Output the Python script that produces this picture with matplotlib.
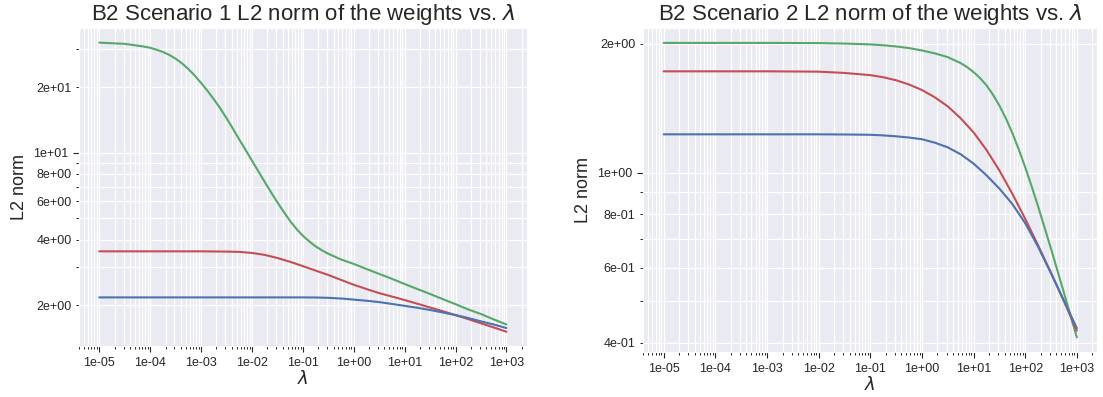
# L2 norm of the weights vs lambda, two scenarios

import numpy as np
import matplotlib.pyplot as plt
import matplotlib.ticker as mticker
import seaborn as sns

sns.set_style("darkgrid", {"xtick.bottom": True, "ytick.left": True})
plt.rcParams['font.family'] = ['Liberation Sans', 'DejaVu Sans']

# scenario 1, lambda = 10**exp
lam_exp_1 = np.arange(-5, 3.25, 0.25)
lam_exp_1g = np.r_[-5, -4.75, np.arange(-4.5, -0.49, 0.125), np.arange(-0.25, 3.01, 0.25)]
s1_green = [32.0, 31.8, 31.6, 31.3, 31.0, 30.7, 30.3, 29.7, 29.0, 28.1, 27.0, 25.7,
            24.2, 22.6, 20.9, 19.25, 17.6, 16.0, 14.4, 12.9, 11.5, 10.3, 9.20, 8.22,
            7.35, 6.58, 5.92, 5.35, 4.86, 4.47, 4.16, 3.92, 3.72, 3.57, 3.44, 3.24,
            3.09, 2.93, 2.78, 2.64, 2.50, 2.37, 2.25, 2.13, 2.02, 1.91, 1.82, 1.72, 1.63]
s1_red = [3.53, 3.53, 3.53, 3.53, 3.53, 3.53, 3.53, 3.53, 3.53, 3.525, 3.52, 3.51,
          3.47, 3.40, 3.29, 3.16, 3.02, 2.88, 2.75, 2.61, 2.48, 2.37, 2.27, 2.19,
          2.11, 2.03, 1.95, 1.875, 1.80, 1.725, 1.65, 1.58, 1.51]
s1_blue = [2.17, 2.17, 2.17, 2.17, 2.17, 2.17, 2.17, 2.17, 2.17, 2.17, 2.17, 2.17,
           2.17, 2.17, 2.17, 2.17, 2.17, 2.168, 2.16, 2.145, 2.12, 2.095, 2.065, 2.025,
           1.985, 1.945, 1.90, 1.85, 1.80, 1.745, 1.685, 1.63, 1.57]

# scenario 2
lam_exp_2 = [-5, -4, -3, -2, -1.5, -1, -0.75, -0.5, -0.25, 0, 0.25, 0.5, 0.75, 1,
             1.25, 1.5, 1.75, 2, 2.25, 2.5, 2.75, 3]
lam_exp_2g = [-5, -4, -3, -2, -1.5, -1, -0.75, -0.5, -0.25, 0, 0.25, 0.5, 0.75, 0.875,
              1, 1.125, 1.25, 1.375, 1.5, 1.625, 1.75, 1.875, 2, 2.125, 2.25, 2.5, 2.75, 3]
s2_green = [2.01, 2.01, 2.01, 2.008, 2.003, 1.994, 1.985, 1.972, 1.955, 1.93, 1.90,
            1.862, 1.803, 1.765, 1.718, 1.664, 1.60, 1.522, 1.435, 1.340, 1.239, 1.134,
            1.030, 0.929, 0.834, 0.664, 0.524, 0.412]
s2_red = [1.725, 1.725, 1.725, 1.722, 1.710, 1.690, 1.671, 1.644, 1.607, 1.560, 1.500,
          1.429, 1.340, 1.242, 1.130, 1.012, 0.893, 0.780, 0.676, 0.583, 0.501, 0.427]
s2_blue = [1.229, 1.229, 1.229, 1.229, 1.228, 1.226, 1.222, 1.216, 1.208, 1.197, 1.175,
           1.146, 1.104, 1.050, 0.986, 0.918, 0.845, 0.762, 0.671, 0.582, 0.502, 0.433]

titles = ["B2 Scenario 1 L2 norm of the weights vs. $\\lambda$",
          "B2 Scenario 2 L2 norm of the weights vs. $\\lambda$"]

colors = sns.color_palette("deep")
BLUE, GREEN, RED = colors[0], colors[2], colors[3]


def x_fmt(v, pos):
    # only label the decades that fall inside the data range
    if v < 0.99e-5 or v > 1.01e3:
        return ''
    return f'{v:.0e}'


def y_fmt(v, pos):
    if v <= 0:
        return ''
    m = int(round(v / 10 ** np.floor(np.log10(v) + 1e-9)))
    return f'{v:.0e}' if m in (1, 2, 4, 6, 8) else ''


fig = plt.figure(figsize=(11.03, 3.97), dpi=100)
ax1 = fig.add_axes([0.0716, 0.128, 0.406, 0.801])
ax2 = fig.add_axes([0.583, 0.113, 0.412, 0.816])

panels = [
    (ax1, [(lam_exp_1g, s1_green, GREEN), (lam_exp_1, s1_red, RED), (lam_exp_1, s1_blue, BLUE)]),
    (ax2, [(lam_exp_2g, s2_green, GREEN), (lam_exp_2, s2_red, RED), (lam_exp_2, s2_blue, BLUE)]),
]

for (ax, series), title in zip(panels, titles):
    for ex, vals, c in series:
        ax.plot(10.0 ** np.asarray(ex), vals, color=c, lw=1.5)
    ax.set_xscale('log')
    ax.set_yscale('log')
    ax.xaxis.set_major_locator(mticker.LogLocator(base=10, numticks=30))
    ax.xaxis.set_minor_locator(mticker.LogLocator(base=10, subs=np.arange(2, 10), numticks=30))
    ax.xaxis.set_major_formatter(mticker.FuncFormatter(x_fmt))
    ax.xaxis.set_minor_formatter(mticker.NullFormatter())
    ax.yaxis.set_major_locator(mticker.LogLocator(base=10, numticks=30))
    ax.yaxis.set_minor_locator(mticker.LogLocator(base=10, subs=np.arange(2, 10), numticks=30))
    ax.yaxis.set_major_formatter(mticker.FuncFormatter(y_fmt))
    ax.yaxis.set_minor_formatter(mticker.FuncFormatter(y_fmt))
    ax.grid(True, which='both', color='white', lw=0.9)
    ax.tick_params(which='major', length=4, width=0.8, color='.15', labelsize=9)
    ax.tick_params(which='minor', length=2, width=0.7, color='.15', labelsize=9)
    ax.set_title(title, fontsize=16)
    ax.set_xlabel('$\\lambda$', fontsize=13, labelpad=1)
    ax.set_ylabel('L2 norm', fontsize=13)

fig.savefig('out.png', dpi=100)
